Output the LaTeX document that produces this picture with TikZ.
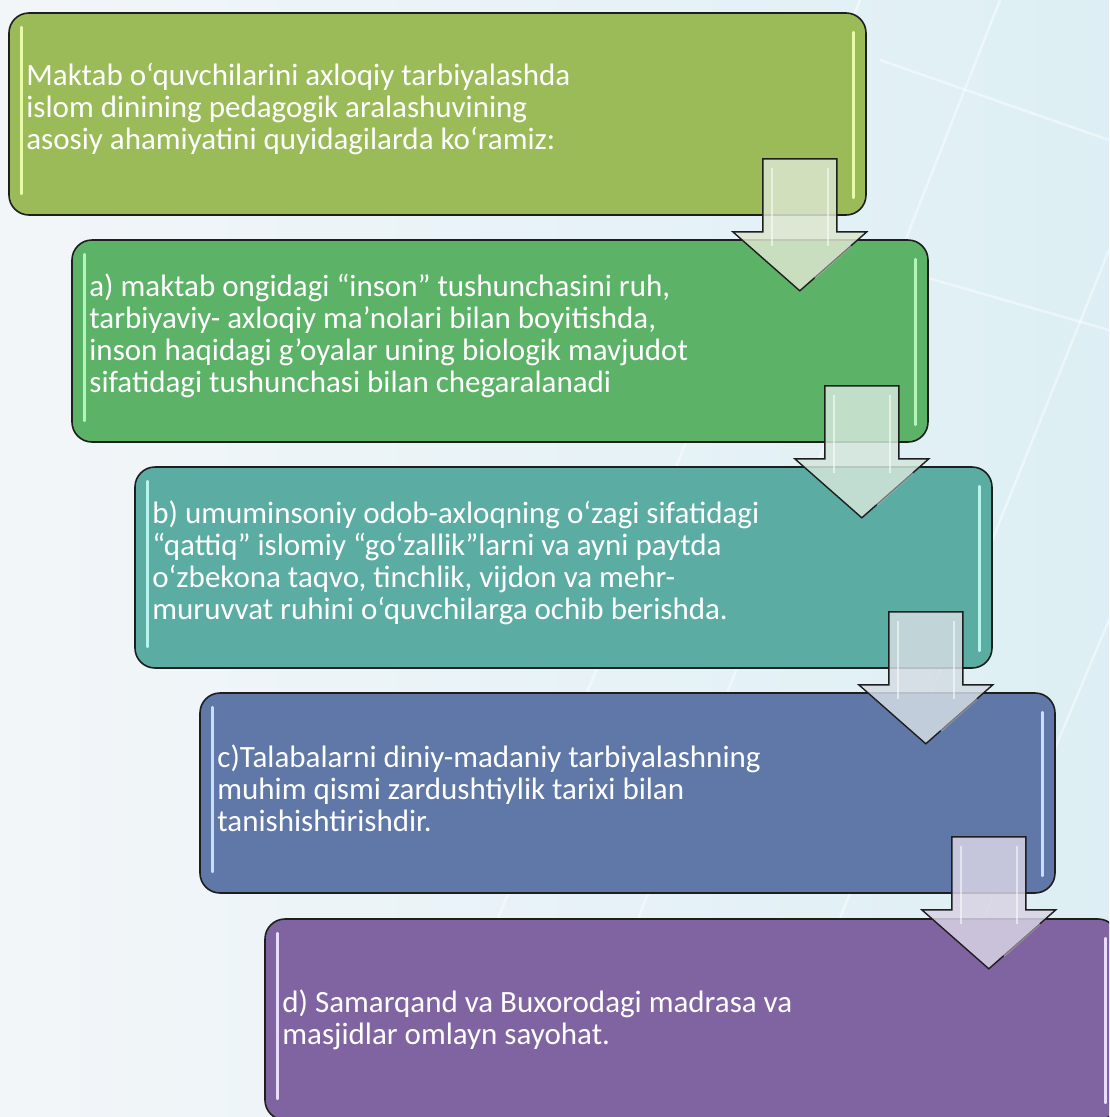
\documentclass[tikz,border=0pt]{standalone}
\usepackage{fontspec}
\setmainfont{Carlito}
\usetikzlibrary{calc}
\definecolor{bgL}{HTML}{F3F6F9}
\definecolor{bgR}{HTML}{DDEFF4}
\definecolor{cA}{HTML}{9BBB59}
\definecolor{cB}{HTML}{5CB267}
\definecolor{cC}{HTML}{5BADA3}
\definecolor{cD}{HTML}{5F78A8}
\definecolor{cE}{HTML}{8064A2}
\definecolor{hA}{HTML}{E8FAA8}
\definecolor{hB}{HTML}{B4F5BC}
\definecolor{hC}{HTML}{B8F4EE}
\definecolor{hD}{HTML}{C8DDFF}
\definecolor{hE}{HTML}{EADCFF}
\definecolor{aA}{HTML}{DCE6CF}
\definecolor{aB}{HTML}{D3E6DB}
\definecolor{aC}{HTML}{D3DDE3}
\definecolor{aD}{HTML}{D8D3E4}
\definecolor{edge}{HTML}{1E1E1E}
\tikzset{
  box/.style={draw=edge, line width=1.6pt, rounded corners=20pt, inner sep=0pt},
  txt/.style={text=white, font=\fontsize{31}{32}\selectfont, align=left, anchor=west, inner sep=0pt},
  hl/.style={line width=2.8pt, line cap=round},
  blockarr/.style={draw=edge, line width=1.4pt, line join=miter, fill opacity=0.85},
  bevel/.style={white, opacity=0.55, line width=2.2pt},
}
\newcommand\downblock[2]{% #1 = box above, #2 = fill colour
  \begin{scope}[shift={(#1.south east)}]
    \draw[blockarr, fill=#2] (-104,-57) -- (-30,-57) -- (-30,16) -- (0,16)
      -- (-67,75) -- (-134,16) -- (-104,16) -- cycle;
    \draw[bevel] (-95,-48) -- (-95,30);
    \draw[bevel] (-39,-48) -- (-39,30);
    \draw[bevel, opacity=0.4] (-52,62) -- (-16,30);
  \end{scope}
}
\begin{document}
\begin{tikzpicture}[x=1pt,y=-1pt]
\useasboundingbox (0,0) rectangle (1109,1117);
\clip (0,0) rectangle (1109,1117);
% background
\shade[left color=bgL, right color=bgR] (0,0) rectangle (1109,1117);
\begin{scope}[white, opacity=0.45, line width=2.5pt]
  \draw (560,1117) -- (1000,0);
  \draw (760,1117) -- (1109,250);
  \draw (900,1117) -- (1109,620);
  \draw (420,1117) -- (860,0);
  \draw (1109,140) -- (880,60);
  \draw (1109,330) -- (900,270);
\end{scope}

% boxes
\node[box, fill=cA, minimum width=857pt, minimum height=202pt] (b1) at (437.5,114) {};
\node[box, fill=cB, minimum width=856pt, minimum height=202pt] (b2) at (500,341) {};
\node[box, fill=cC, minimum width=857pt, minimum height=201pt] (b3) at (563.5,567.5) {};
\node[box, fill=cD, minimum width=855pt, minimum height=200pt] (b4) at (627.5,793) {};
\node[box, fill=cE, minimum width=853pt, minimum height=201pt] (b5) at (691.5,1019.5) {};

% highlights
\foreach \b/\h in {b1/hA, b2/hB, b3/hC, b4/hD, b5/hE}{
  \draw[hl, \h] ($(\b.north west)+(13,15)$) -- ($(\b.south west)+(13,-22)$);
  \draw[hl, \h] ($(\b.north east)+(-13,20)$) -- ($(\b.south east)+(-13,-18)$);
}

% texts
\node[txt] (t1) at ($(b1.west)+(18,-5)$) {Maktab o‘quvchilarini axloqiy tarbiyalashda\\islom dinining pedagogik aralashuvining\\asosiy ahamiyatini quyidagilarda ko‘ramiz:};
\node[txt] (t2) at ($(b2.west)+(18,-5)$) {a) maktab ongidagi “inson” tushunchasini ruh,\\tarbiyaviy- axloqiy ma’nolari bilan boyitishda,\\inson haqidagi g\char39 oyalar uning biologik mavjudot\\sifatidagi tushunchasi bilan chegaralanadi};
\node[txt] (t3) at ($(b3.west)+(18,-5)$) {b) umuminsoniy odob-axloqning o‘zagi sifatidagi\\“qattiq” islomiy “go‘zallik”larni va ayni paytda\\o‘zbekona taqvo, tinchlik, vijdon va mehr-\\muruvvat ruhini o‘quvchilarga ochib berishda.};
\node[txt] (t4) at ($(b4.west)+(18,-5)$) {c)Talabalarni diniy-madaniy tarbiyalashning\\muhim qismi zardushtiylik tarixi bilan\\tanishishtirishdir.};
\node[txt] (t5) at ($(b5.west)+(18,0)$) {d) Samarqand va Buxorodagi madrasa va\\masjidlar omlayn sayohat.};

% block arrows
\downblock{b1}{aA}
\downblock{b2}{aB}
\downblock{b3}{aC}
\downblock{b4}{aD}
\end{tikzpicture}
\end{document}
